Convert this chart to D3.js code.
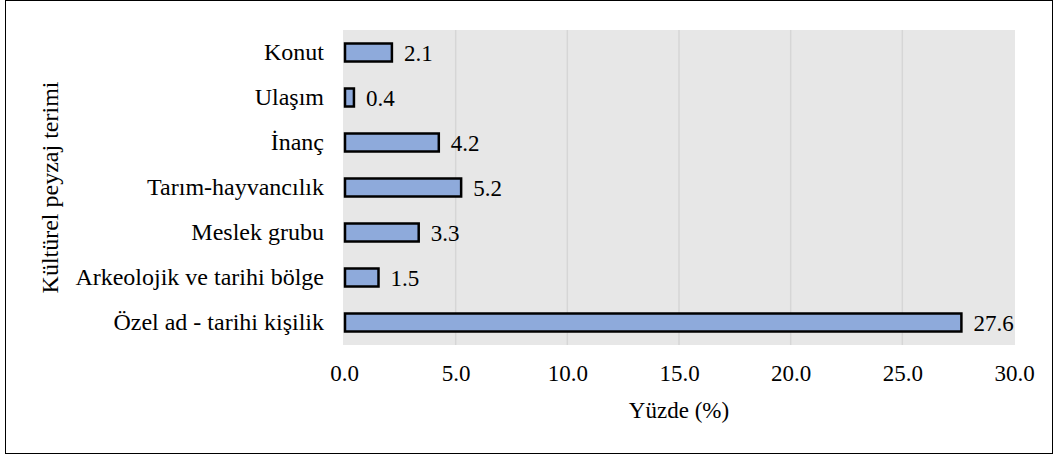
<!DOCTYPE html>
<html>
<head>
<meta charset="utf-8">
<script src="https://cdn.jsdelivr.net/npm/d3@7"></script>
<style>
  body { margin: 0; background: #fff; }
  svg text { font-family: "Liberation Serif", "Times New Roman", Times, Tinos, "DejaVu Serif", serif; fill: #000; }
</style>
</head>
<body>
<div class="chart"></div>
<script>
// data
var categories = ["Konut", "Ulaşım", "İnanç", "Tarım-hayvancılık", "Meslek grubu", "Arkeolojik ve tarihi bölge", "Özel ad - tarihi kişilik"];
var values = [2.1, 0.4, 4.2, 5.2, 3.3, 1.5, 27.6];
var xTicks = [0, 5, 10, 15, 20, 25, 30];

var svgWidth = 1058;
var svgHeight = 455;

var margin = { top: 30, right: 44, bottom: 110, left: 344 };
var chartWidth = svgWidth - margin.left - margin.right;
var chartHeight = svgHeight - margin.top - margin.bottom;

var svg = d3.select(".chart")
  .append("svg")
  .attr("width", svgWidth)
  .attr("height", svgHeight);

// outer frame
svg.append("rect")
  .attr("x", 5.5).attr("y", 0.5)
  .attr("width", 1047).attr("height", 453)
  .attr("fill", "none")
  .attr("stroke", "#000")
  .attr("stroke-width", 1);

var chartGroup = svg.append("g")
  .attr("transform", `translate(${margin.left}, ${margin.top})`);

var x = d3.scaleLinear().domain([0, 30]).range([0, chartWidth]);
var y = d3.scaleBand().domain(categories).range([0, chartHeight]).paddingInner(0.6).paddingOuter(0.3);

// plot background
chartGroup.append("rect")
  .attr("x", -1).attr("y", 0)
  .attr("width", chartWidth + 2).attr("height", chartHeight)
  .attr("fill", "#e7e7e7");

// gridlines
chartGroup.selectAll(".grid")
  .data(xTicks.slice(1, -1))
  .enter().append("line")
  .attr("x1", d => x(d)).attr("x2", d => x(d))
  .attr("y1", 0).attr("y2", chartHeight)
  .attr("stroke", "#d6d6d6")
  .attr("stroke-width", 1.5);

// bars
chartGroup.selectAll(".bar")
  .data(values)
  .enter().append("rect")
  .attr("x", x(0) + 1)
  .attr("y", (d, i) => y(categories[i]))
  .attr("width", d => x(d) - x(0))
  .attr("height", y.bandwidth())
  .attr("fill", "#8eaadb")
  .attr("stroke", "#000")
  .attr("stroke-width", 2.5);

// value labels
chartGroup.selectAll(".lbl")
  .data(values)
  .enter().append("text")
  .attr("x", d => x(d) + 13)
  .attr("y", (d, i) => y(categories[i]) + y.bandwidth() / 2)
  .attr("dy", "0.35em")
  .style("font-size", "23px")
  .text(d => d.toFixed(1));

// category axis
var leftAxis = d3.axisLeft(y).tickSize(0).tickPadding(20);
chartGroup.append("g")
  .call(leftAxis)
  .attr("font-family", null)
  .call(g => g.select(".domain").remove())
  .selectAll("text")
  .style("font-size", "24px");

// value axis
var bottomAxis = d3.axisBottom(x).tickValues(xTicks).tickSize(0).tickPadding(20).tickFormat(d3.format(".1f"));
chartGroup.append("g")
  .attr("transform", `translate(0, ${chartHeight})`)
  .call(bottomAxis)
  .attr("font-family", null)
  .call(g => g.select(".domain").remove())
  .selectAll("text")
  .style("font-size", "23px");

// axis titles
svg.append("text")
  .attr("x", margin.left + chartWidth / 2)
  .attr("y", 418)
  .attr("text-anchor", "middle")
  .style("font-size", "23px")
  .text("Yüzde (%)");

svg.append("text")
  .attr("transform", `translate(58, ${margin.top + chartHeight / 2}) rotate(-90)`)
  .attr("text-anchor", "middle")
  .style("font-size", "24px")
  .text("Kültürel peyzaj terimi");
</script>
</body>
</html>
